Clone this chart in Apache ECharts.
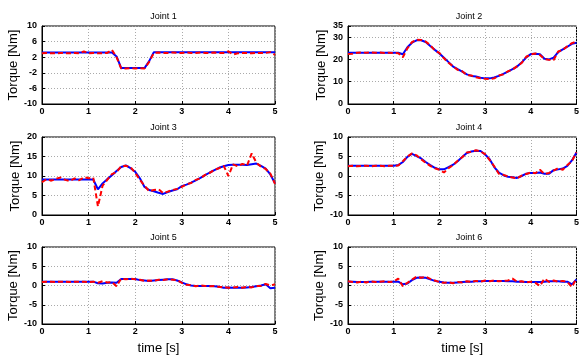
<!DOCTYPE html>
<html>
<head>
<meta charset="utf-8">
<script src="https://cdn.jsdelivr.net/npm/echarts@6/dist/echarts.min.js"></script>
<style>
  html, body { margin: 0; padding: 0; background: #fff; }
  #main { width: 582px; height: 356px; }
</style>
</head>
<body>
<div id="main"></div>
<script>
// time base [s]
var timeS = [0.0, 0.1, 0.2, 0.3, 0.4, 0.5, 0.6, 0.7, 0.8, 0.9,
  1.0, 1.1, 1.2, 1.3, 1.4, 1.5, 1.6, 1.7, 1.8, 1.9,
  2.0, 2.1, 2.2, 2.3, 2.4, 2.5, 2.6, 2.7, 2.8, 2.9,
  3.0, 3.1, 3.2, 3.3, 3.4, 3.5, 3.6, 3.7, 3.8, 3.9,
  4.0, 4.1, 4.2, 4.3, 4.4, 4.5, 4.6, 4.7, 4.8, 4.9, 5.0];

// blue = solid, red = dashed
var joint1Blue = [3.2, 3.2, 3.2, 3.2, 3.2, 3.2, 3.2, 3.2, 3.2, 3.2,
  3.2, 3.2, 3.2, 3.2, 3.2, 3.2, 2.2, -0.8, -0.8, -0.8,
  -0.8, -0.8, -0.8, 1.0, 3.3, 3.3, 3.3, 3.3, 3.3, 3.3,
  3.3, 3.3, 3.3, 3.3, 3.3, 3.3, 3.3, 3.3, 3.3, 3.3,
  3.3, 3.3, 3.3, 3.3, 3.3, 3.3, 3.3, 3.3, 3.3, 3.3, 3.3];
var joint1Red = [3.0, 3.1, 3.0, 3.0, 3.1, 3.0, 3.0, 3.1, 3.0, 3.5,
  3.0, 3.1, 3.0, 3.0, 3.1, 3.9, 2.0, -0.9, -0.9, -0.8,
  -0.9, -0.8, -0.9, 0.8, 3.1, 3.2, 3.1, 3.1, 3.2, 3.1,
  3.1, 3.2, 3.1, 3.1, 3.2, 3.1, 3.1, 3.2, 3.1, 3.1,
  3.5, 2.7, 3.0, 3.1, 3.1, 3.0, 3.1, 3.1, 3.1, 3.3, 2.6];

var joint2Blue = [23.0, 23.0, 23.0, 23.0, 23.0, 23.0, 23.0, 23.0, 23.0, 23.0,
  23.0, 23.0, 22.3, 25.5, 27.5, 28.6, 28.6, 27.8, 26.0, 24.3,
  22.7, 20.8, 18.8, 16.8, 15.6, 14.5, 13.3, 12.6, 12.3, 11.8,
  11.5, 11.5, 11.9, 12.6, 13.5, 14.5, 15.6, 16.8, 18.6, 20.9,
  22.4, 22.5, 22.3, 20.3, 20.0, 20.8, 23.3, 24.5, 25.7, 27.0, 27.5];
var joint2Red = [22.4, 22.6, 23.0, 23.1, 23.0, 23.2, 23.0, 23.1, 22.9, 23.0,
  22.9, 22.8, 21.0, 25.0, 27.8, 28.9, 28.7, 28.0, 26.4, 24.0,
  22.9, 20.5, 18.5, 16.9, 15.3, 14.7, 13.0, 12.8, 12.0, 11.6,
  11.3, 11.2, 11.5, 12.8, 13.3, 14.7, 15.4, 17.0, 18.4, 21.2,
  22.2, 22.7, 22.0, 20.1, 19.8, 19.7, 23.6, 24.3, 25.9, 27.3, 28.0];

var joint3Blue = [9.1, 9.1, 9.1, 9.1, 9.1, 9.1, 9.1, 9.1, 9.1, 9.1,
  9.1, 9.1, 6.6, 8.1, 9.2, 10.2, 11.3, 12.3, 12.7, 12.0,
  11.1, 9.4, 7.2, 6.4, 6.1, 5.7, 5.4, 5.9, 6.3, 6.6,
  7.4, 7.8, 8.3, 8.9, 9.5, 10.2, 10.9, 11.5, 12.1, 12.5,
  12.8, 12.9, 12.9, 12.9, 12.8, 13.0, 13.2, 12.6, 11.9, 10.4, 8.1];
var joint3Red = [8.4, 9.2, 8.8, 9.3, 9.6, 9.0, 8.7, 9.4, 8.9, 9.7,
  9.4, 9.6, 2.2, 7.5, 9.0, 10.5, 11.0, 12.5, 12.6, 12.3,
  10.8, 9.0, 7.5, 6.1, 6.4, 6.6, 5.6, 6.0, 6.4, 6.7,
  7.2, 7.9, 8.2, 9.0, 9.4, 10.3, 10.8, 11.6, 12.0, 12.6,
  10.0, 13.0, 12.5, 13.1, 12.7, 15.8, 13.4, 12.4, 11.8, 10.6, 8.0];

var joint4Blue = [2.6, 2.6, 2.6, 2.6, 2.6, 2.6, 2.6, 2.6, 2.6, 2.6,
  2.6, 2.8, 3.6, 4.9, 5.7, 5.1, 4.5, 3.6, 2.8, 2.1,
  1.7, 1.7, 2.3, 2.9, 3.8, 4.9, 5.9, 6.3, 6.5, 6.4,
  5.5, 4.3, 2.3, 0.9, 0.2, -0.2, -0.3, -0.5, 0.0, 0.6,
  0.8, 0.8, 0.9, 0.6, 0.6, 1.5, 1.7, 1.9, 2.6, 4.0, 6.0];
var joint4Red = [2.5, 2.6, 2.5, 2.6, 2.6, 2.5, 2.6, 2.6, 2.5, 2.6,
  2.6, 2.7, 3.8, 5.0, 5.8, 5.3, 4.3, 3.4, 2.6, 2.0,
  1.6, 0.9, 2.0, 2.8, 3.9, 4.8, 6.0, 6.2, 6.6, 6.3,
  5.6, 4.1, 2.5, 0.6, 0.3, -0.1, -0.4, -0.6, 0.1, 0.5,
  0.9, 0.7, 1.6, 0.5, 0.8, 1.4, 2.0, 1.6, 2.8, 3.8, 6.1];

var joint5Blue = [1.0, 1.0, 1.0, 1.0, 1.0, 1.0, 1.0, 1.0, 1.0, 1.0,
  1.0, 1.0, 0.6, 0.5, 0.7, 0.8, 0.7, 1.7, 1.7, 1.7,
  1.7, 1.4, 1.3, 1.2, 1.3, 1.4, 1.5, 1.6, 1.6, 1.3,
  0.8, 0.3, 0.0, -0.1, -0.1, -0.1, -0.1, -0.2, -0.3, -0.6,
  -0.5, -0.6, -0.6, -0.6, -0.5, -0.4, -0.2, 0.0, 0.3, -0.7, -0.6];
var joint5Red = [0.9, 1.0, 1.0, 0.9, 1.0, 1.0, 0.9, 1.0, 1.0, 1.0,
  0.9, 1.0, 0.7, 1.1, 0.8, 0.9, -0.2, 1.8, 1.6, 1.8,
  1.6, 1.5, 1.2, 1.3, 1.2, 1.5, 1.4, 1.6, 1.5, 1.4,
  0.7, 0.2, 0.1, -0.2, 0.0, -0.1, -0.2, -0.1, -0.4, -0.4,
  -0.6, -0.5, -0.4, -0.6, -0.3, -0.5, -0.1, -0.1, 0.4, 0.0, 0.3];

var joint6Blue = [1.0, 1.0, 0.9, 0.9, 0.9, 1.0, 1.0, 1.0, 1.0, 1.0,
  1.0, 1.0, 0.3, 0.5, 1.4, 2.0, 2.1, 2.0, 1.6, 1.2,
  1.0, 0.8, 0.7, 0.7, 0.8, 0.9, 1.0, 1.0, 1.1, 1.1,
  1.2, 1.2, 1.2, 1.2, 1.2, 1.1, 1.1, 1.0, 1.0, 0.9,
  0.9, 0.9, 0.9, 1.0, 1.1, 1.1, 1.1, 1.0, 1.0, 0.3, 1.6];
var joint6Red = [1.1, 0.9, 0.8, 1.0, 0.8, 1.1, 0.9, 1.0, 1.1, 0.9,
  1.0, 1.8, -0.2, 0.7, 1.5, 2.3, 2.0, 2.3, 1.7, 1.3,
  0.9, 0.7, 0.8, 0.6, 0.9, 0.8, 1.1, 0.9, 1.2, 1.0,
  1.3, 1.1, 1.3, 1.1, 1.2, 1.3, 1.8, 1.0, 1.1, 0.8,
  1.0, 0.7, -0.1, 1.8, 0.9, 1.3, 1.0, 1.2, 0.9, -0.4, 1.9];

var titles = ['Joint 1', 'Joint 2', 'Joint 3', 'Joint 4', 'Joint 5', 'Joint 6'];
var blueSeries = [joint1Blue, joint2Blue, joint3Blue, joint4Blue, joint5Blue, joint6Blue];
var redSeries = [joint1Red, joint2Red, joint3Red, joint4Red, joint5Red, joint6Red];
// y-axis ranges per joint: [min, max, interval]
var yRanges = [[-10, 10, 4], [0, 35, 10], [0, 20, 5], [-10, 10, 5], [-10, 10, 5], [-10, 10, 5]];

var gridBoxes = [
  { left: 42, top: 26, width: 233, height: 78 },
  { left: 348, top: 26, width: 232, height: 78 },
  { left: 42, top: 137, width: 233, height: 78 },
  { left: 348, top: 137, width: 232, height: 78 },
  { left: 42, top: 247, width: 233, height: 79 },
  { left: 348, top: 247, width: 232, height: 79 }
];

function pairs(ys) {
  return timeS.map(function (t, i) { return [t, ys[i]]; });
}

var font = 'Liberation Sans, Arial, sans-serif';
var dotted = { show: true, lineStyle: { color: '#aaa', width: 1, type: [1, 2] } };

var chart = echarts.init(document.getElementById('main'), null, { renderer: 'canvas' });

var option = {
  animation: false,
  backgroundColor: '#fff',
  title: [],
  grid: [],
  xAxis: [],
  yAxis: [],
  series: []
};

gridBoxes.forEach(function (g, i) {
  option.title.push({
    text: titles[i],
    left: g.left + g.width / 2,
    top: g.top - 19,
    textAlign: 'center',
    textStyle: { fontFamily: font, fontSize: 9, fontWeight: 'normal', color: '#000' }
  });
  option.grid.push({
    left: g.left, top: g.top, width: g.width, height: g.height,
    show: true, borderColor: '#000', borderWidth: 1, backgroundColor: '#fff'
  });
  var bottomRow = i >= 4;
  option.xAxis.push({
    type: 'value', gridIndex: i, min: 0, max: 5, interval: 1,
    name: bottomRow ? 'time [s]' : '',
    nameLocation: 'middle', nameGap: 18,
    nameTextStyle: { fontFamily: font, fontSize: 13, color: '#000' },
    axisLine: { show: true, onZero: false, lineStyle: { color: '#000', width: 1 } },
    axisTick: { show: true, inside: true, length: 3, lineStyle: { color: '#000' } },
    axisLabel: { fontFamily: font, fontSize: 9, fontWeight: 'bold', color: '#000', margin: 3 },
    splitLine: dotted
  });
  var r = yRanges[i];
  option.yAxis.push({
    type: 'value', gridIndex: i, min: r[0], max: r[1], interval: r[2],
    name: 'Torque [Nm]', nameLocation: 'middle', nameGap: 20,
    nameTextStyle: { fontFamily: font, fontSize: 13, color: '#000' },
    axisLine: { show: true, onZero: false, lineStyle: { color: '#000', width: 1 } },
    axisTick: { show: true, inside: true, length: 3, lineStyle: { color: '#000' } },
    axisLabel: { fontFamily: font, fontSize: 9, fontWeight: 'bold', color: '#000', margin: 5 },
    splitLine: dotted
  });
  option.series.push({
    type: 'line', xAxisIndex: i, yAxisIndex: i,
    data: pairs(blueSeries[i]), showSymbol: false, smooth: false,
    lineStyle: { color: '#0000ff', width: 2 }
  });
  option.series.push({
    type: 'line', xAxisIndex: i, yAxisIndex: i,
    data: pairs(redSeries[i]), showSymbol: false, smooth: false,
    lineStyle: { color: '#ff0000', width: 2, type: [5, 3] }
  });
});

chart.setOption(option);
</script>
</body>
</html>
